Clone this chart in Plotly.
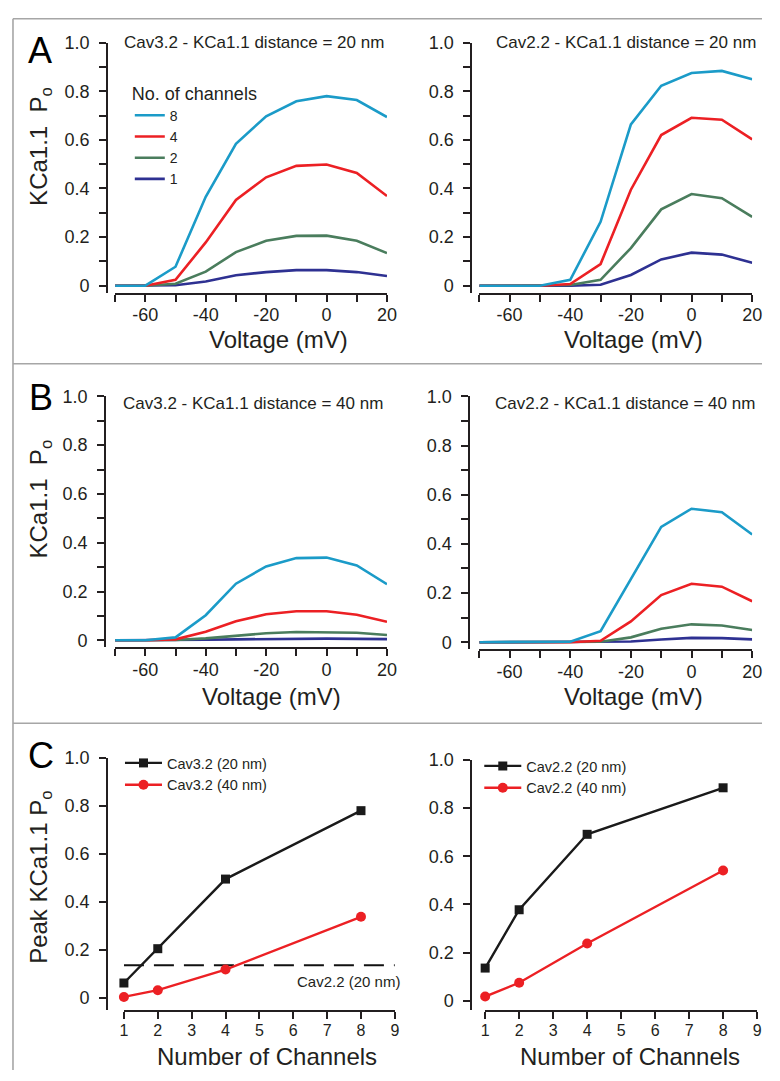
import plotly.graph_objects as go

# page is 780x1081; the browser body keeps its default 8px margin,
# so the figure itself is 764x1065 and every page pixel is offset by 8
PAGE_OFF = 8
W, H = 764, 1065

# ---------------- data ----------------
voltage = [-70, -60, -50, -40, -30, -20, -10, 0, 10, 20]
channel_counts = ["1", "2", "4", "8"]

# Panel A left: Cav3.2 - KCa1.1 distance = 20 nm
cav32_20nm = {
    "1": [0, 0, 0.002, 0.017, 0.043, 0.056, 0.064, 0.064, 0.056, 0.040],
    "2": [0, 0, 0.008, 0.058, 0.138, 0.185, 0.205, 0.206, 0.185, 0.134],
    "4": [0, 0, 0.024, 0.178, 0.353, 0.446, 0.493, 0.499, 0.464, 0.369],
    "8": [0, 0, 0.078, 0.366, 0.584, 0.697, 0.759, 0.780, 0.764, 0.694],
}
# Panel A right: Cav2.2 - KCa1.1 distance = 20 nm
cav22_20nm = {
    "1": [0, 0, 0, 0, 0.004, 0.044, 0.108, 0.136, 0.128, 0.094],
    "2": [0, 0, 0, 0.003, 0.024, 0.155, 0.314, 0.377, 0.360, 0.283],
    "4": [0, 0, 0, 0.007, 0.089, 0.395, 0.620, 0.691, 0.683, 0.602],
    "8": [0, 0, 0, 0.024, 0.263, 0.664, 0.823, 0.875, 0.884, 0.850],
}
# Panel B left: Cav3.2 - KCa1.1 distance = 40 nm
cav32_40nm = {
    "1": [0, 0, 0, 0.002, 0.004, 0.006, 0.007, 0.007, 0.006, 0.005],
    "2": [0, 0, 0.001, 0.008, 0.020, 0.029, 0.034, 0.034, 0.031, 0.022],
    "4": [0, 0, 0.004, 0.035, 0.078, 0.107, 0.119, 0.119, 0.105, 0.076],
    "8": [0, 0, 0.012, 0.103, 0.232, 0.303, 0.337, 0.339, 0.307, 0.230],
}
# Panel B right: Cav2.2 - KCa1.1 distance = 40 nm
cav22_40nm = {
    "1": [0, 0, 0, 0, 0, 0.003, 0.011, 0.018, 0.017, 0.012],
    "2": [0, 0, 0, 0, 0.002, 0.020, 0.055, 0.073, 0.068, 0.050],
    "4": [0, 0, 0, 0, 0.006, 0.085, 0.192, 0.238, 0.226, 0.167],
    "8": [0, 0, 0, 0.002, 0.045, 0.260, 0.469, 0.543, 0.529, 0.438],
}

# Panel C: peak Po vs number of channels
n_channels = [1, 2, 4, 8]
peak_cav32_20nm = [0.062, 0.205, 0.495, 0.780]
peak_cav32_40nm = [0.004, 0.032, 0.118, 0.338]
peak_cav22_20nm = [0.136, 0.378, 0.691, 0.884]
peak_cav22_40nm = [0.018, 0.075, 0.238, 0.541]
reference_x = [1, 9]
reference_level = peak_cav22_20nm[0]

# ticks
po_tickvals = [0, 0.1, 0.2, 0.3, 0.4, 0.5, 0.6, 0.7, 0.8, 0.9, 1.0]
po_ticktext = ["0", "", "0.2", "", "0.4", "", "0.6", "", "0.8", "", "1.0"]
po_major_vals = [0, 0.2, 0.4, 0.6, 0.8, 1.0]
po_major_text = ["0", "0.2", "0.4", "0.6", "0.8", "1.0"]
v_tickvals = [-70, -60, -50, -40, -30, -20, -10, 0, 10, 20]
v_ticktext = ["", "-60", "", "-40", "", "-20", "", "0", "", "20"]
n_tickvals = [1, 2, 3, 4, 5, 6, 7, 8, 9]
n_ticktext = ["1", "2", "3", "4", "5", "6", "7", "8", "9"]

panel_titles = [
    "Cav3.2 - KCa1.1 distance = 20 nm",
    "Cav2.2 - KCa1.1 distance = 20 nm",
    "Cav3.2 - KCa1.1 distance = 40 nm",
    "Cav2.2 - KCa1.1 distance = 40 nm",
]
x_titles = ["Voltage (mV)", "Voltage (mV)", "Voltage (mV)", "Voltage (mV)",
            "Number of Channels", "Number of Channels"]
y_titles = ["KCa1.1  P<sub>o</sub>", "KCa1.1  P<sub>o</sub>", "Peak KCa1.1 P<sub>o</sub>"]

# ---------------- styles ----------------
FONT = "Liberation Sans, Arial, Helvetica, sans-serif"
TXT = "#231f20"
chan_colors = {"8": "#1b9bc8", "4": "#ec2024", "2": "#4a7d5d", "1": "#2e3192"}


def fx(p):
    return (p - PAGE_OFF) / W


def fy(p):
    return 1 - (p - PAGE_OFF) / H


fig = go.Figure()

# subplot geometry in page pixels: (x_left, x_right, yaxis_x, y_top(1.0), y_zero, xaxis_y)
geo = {
    1: (113, 390, 105, 33, 279, 286),
    2: (484, 762, 476, 33, 279, 286),
    3: (113, 390, 103, 391, 638, 645),
    4: (484, 762, 474, 391, 640, 647),
    5: (122, 398, 105, 757, 1000, 1012),
    6: (490, 767, 476, 759, 1003, 1012),
}

curve_sets = {1: cav32_20nm, 2: cav22_20nm, 3: cav32_40nm, 4: cav22_40nm}

for i, data in curve_sets.items():
    for c in channel_counts:
        fig.add_trace(go.Scatter(
            x=voltage, y=data[c], mode="lines", name=c,
            line=dict(color=chan_colors[c], width=2.6),
            xaxis=f"x{i}", yaxis=f"y{i}",
            showlegend=(i == 1), legend="legend",
        ))

# panel C
fig.add_trace(go.Scatter(
    x=reference_x, y=[reference_level, reference_level], mode="lines",
    line=dict(color="#111111", width=1.8, dash="20px,10px"),
    xaxis="x5", yaxis="y5", showlegend=False))
fig.add_trace(go.Scatter(
    x=n_channels, y=peak_cav32_20nm, mode="lines+markers", name="Cav3.2 (20 nm)",
    line=dict(color="#1a1a1a", width=2.4), marker=dict(symbol="square", size=9, color="#1a1a1a"),
    xaxis="x5", yaxis="y5", legend="legend2", cliponaxis=False))
fig.add_trace(go.Scatter(
    x=n_channels, y=peak_cav32_40nm, mode="lines+markers", name="Cav3.2 (40 nm)",
    line=dict(color="#ec2024", width=2.4), marker=dict(symbol="circle", size=10, color="#ec2024"),
    xaxis="x5", yaxis="y5", legend="legend2", cliponaxis=False))
fig.add_trace(go.Scatter(
    x=n_channels, y=peak_cav22_20nm, mode="lines+markers", name="Cav2.2 (20 nm)",
    line=dict(color="#1a1a1a", width=2.4), marker=dict(symbol="square", size=9, color="#1a1a1a"),
    xaxis="x6", yaxis="y6", legend="legend3", cliponaxis=False))
fig.add_trace(go.Scatter(
    x=n_channels, y=peak_cav22_40nm, mode="lines+markers", name="Cav2.2 (40 nm)",
    line=dict(color="#ec2024", width=2.4), marker=dict(symbol="circle", size=10, color="#ec2024"),
    xaxis="x6", yaxis="y6", legend="legend3", cliponaxis=False))

axis_common = dict(showline=True, linecolor=TXT, linewidth=2.2, ticks="outside",
                   ticklen=7, tickwidth=2.2, tickcolor=TXT, showgrid=False, zeroline=False,
                   fixedrange=True, tickmode="array")

layout = dict(
    width=W, height=H, autosize=False,
    margin=dict(l=0, r=0, t=0, b=0, pad=0),
    paper_bgcolor="white", plot_bgcolor="white",
    font=dict(family=FONT, color=TXT),
)

for i, (xl, xr, yax, ytop, yzero, xay) in geo.items():
    unit = yzero - ytop
    lo = -(xay - yzero) / unit
    xa = dict(axis_common, domain=[fx(xl), fx(xr)], anchor=f"y{i}", ticklabelstandoff=-2)
    ya = dict(axis_common, domain=[fy(xay), fy(ytop)], anchor="free", position=fx(yax),
              range=[lo, 1.0], tickfont=dict(size=18, color=TXT), ticklabelstandoff=6)
    if i <= 4:
        xa.update(range=[-70, 20], tickvals=v_tickvals, ticktext=v_ticktext,
                  tickfont=dict(size=18, color=TXT))
        ya.update(tickvals=po_tickvals, ticktext=po_ticktext)
    else:
        xa.update(range=[1, 9], tickvals=n_tickvals, ticktext=n_ticktext,
                  tickfont=dict(size=16, color=TXT))
        ya.update(tickvals=po_major_vals, ticktext=po_major_text)
    key = "" if i == 1 else str(i)
    layout["xaxis" + key] = xa
    layout["yaxis" + key] = ya

layout["legend"] = dict(x=fx(128), y=fy(67), xanchor="left", yanchor="top",
                        bgcolor="rgba(0,0,0,0)", traceorder="reversed",
                        title=dict(text="No. of channels", font=dict(size=18, color=TXT)),
                        font=dict(size=14, color=TXT), itemwidth=30, tracegroupgap=0)
layout["legend2"] = dict(x=fx(118), y=fy(746), xanchor="left", yanchor="top",
                         bgcolor="rgba(0,0,0,0)", font=dict(size=14.5, color=TXT), itemwidth=37)
layout["legend3"] = dict(x=fx(484), y=fy(749), xanchor="left", yanchor="top",
                         bgcolor="rgba(0,0,0,0)", font=dict(size=14.5, color=TXT), itemwidth=37)

annotations = []
# panel letters
for letter, (cx, cy) in zip(["A", "B", "C"], [(37, 41), (38, 392), (38, 755)]):
    annotations.append(dict(text=letter, x=fx(cx), y=fy(cy), xref="paper", yref="paper",
                            showarrow=False, xanchor="center", yanchor="middle",
                            font=dict(size=36, color="#000000")))
# panel titles
for t, (cx, cy) in zip(panel_titles, [(255, 33), (633, 33), (254, 398), (632, 398)]):
    annotations.append(dict(text=t, x=fx(cx), y=fy(cy), xref="paper", yref="paper",
                            showarrow=False, xanchor="center", yanchor="middle",
                            font=dict(size=17, color=TXT)))
# x axis titles
for t, (cx, cy) in zip(x_titles, [(279, 333), (641, 333), (272, 695), (641, 695),
                                   (268, 1059), (638, 1059)]):
    annotations.append(dict(text=t, x=fx(cx), y=fy(cy), xref="paper", yref="paper",
                            showarrow=False, xanchor="center", yanchor="middle",
                            font=dict(size=24, color=TXT)))
# y axis titles
for t, (cx, cy) in zip(y_titles, [(37, 138), (37, 495), (37, 878)]):
    annotations.append(dict(text=t, x=fx(cx), y=fy(cy), xref="paper", yref="paper",
                            showarrow=False, xanchor="center", yanchor="middle", textangle=-90,
                            font=dict(size=24, color=TXT)))
# dashed reference label
annotations.append(dict(text="Cav2.2 (20 nm)", x=fx(351), y=fy(983), xref="paper", yref="paper",
                        showarrow=False, xanchor="center", yanchor="middle",
                        font=dict(size=15, color=TXT)))
layout["annotations"] = annotations

# panel frame lines (page pixels)
FR = "#a6a6a6"
shapes = []
right_edge = PAGE_OFF + W
bottom_edge = PAGE_OFF + H
for (x0, y0, x1, y1) in [(9, 8.8, right_edge, 8.8), (9, 8.8, 9, bottom_edge),
                         (9, 358, right_edge, 358), (9, 722, right_edge, 722)]:
    shapes.append(dict(type="line", xref="paper", yref="paper",
                       x0=fx(x0), y0=fy(y0), x1=fx(x1), y1=fy(y1),
                       line=dict(color=FR, width=1.6)))
layout["shapes"] = shapes

fig.update_layout(**layout)

fig.write_html("out.html", config={"displayModeBar": False})
